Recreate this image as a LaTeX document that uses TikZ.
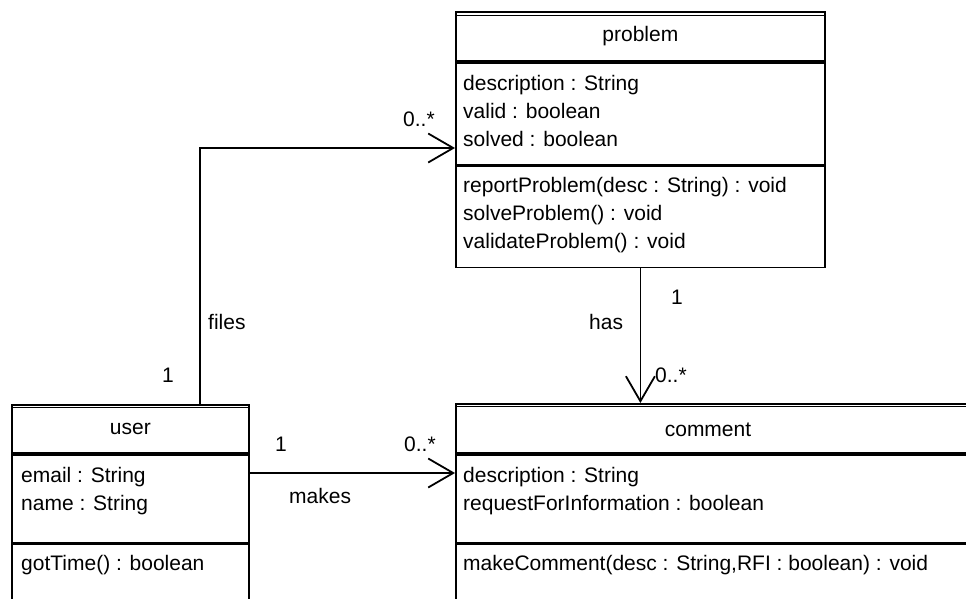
\documentclass[tikz,border=0pt]{standalone}
\usepackage{fontspec}
\setmainfont{Liberation Sans}
\usetikzlibrary{arrows.meta}

\tikzset{
  part/.style={draw, line width=1.8pt, rectangle, anchor=north west, inner sep=0pt},
  member/.style={anchor=base west, inner sep=0pt},
  mult/.style={anchor=base west, inner sep=0pt},
  topline/.style={line width=0.9pt},
  assoc/.style={line width=1.8pt, -{Straight Barb[length=25pt, width=29pt, line width=1.8pt]}},
}

\begin{document}
\begin{tikzpicture}[x=1pt, y=-1pt, every node/.style={font=\fontsize{21pt}{28pt}\selectfont}]
  \useasboundingbox (0,0) rectangle (966,598);
  \clip (0,0) rectangle (966,598);

  % problem class
  \node[part, minimum width=369pt, minimum height=49pt] (problem) at (455,11) {problem};
  \node[part, minimum width=369pt, minimum height=102pt] (problemattr) at (problem.south west) {};
  \node[part, minimum width=369pt, minimum height=101pt] (problemops) at (problemattr.south west) {};
  \draw[topline] ([yshift=-4pt]problem.north west) -- ([yshift=-4pt]problem.north east);
  \node[member] (pdesc) at (463,90) {description : String};
  \node[member] (pvalid) at (463,118) {valid : boolean};
  \node[member] (psolved) at (463,146) {solved : boolean};
  \node[member] (preport) at (463,192) {reportProblem(desc : String) : void};
  \node[member] (psolve) at (463,220) {solveProblem() : void};
  \node[member] (pvalidate) at (463,248) {validateProblem() : void};

  % user class
  \node[part, minimum width=237pt, minimum height=48pt] (user) at (11,404) {user};
  \node[part, minimum width=237pt, minimum height=88pt] (userattr) at (user.south west) {};
  \node[part, minimum width=237pt, minimum height=100pt] (userops) at (userattr.south west) {};
  \draw[topline] ([yshift=-3.5pt]user.north west) -- ([yshift=-3.5pt]user.north east);
  \node[member] (uemail) at (21,482) {email : String};
  \node[member] (uname) at (21,510) {name : String};
  \node[member] (ugottime) at (21,570) {gotTime() : boolean};

  % comment class
  \node[part, minimum width=525pt, minimum height=49pt] (comment) at (455,403) {};
  \node[part, minimum width=525pt, minimum height=88pt] (commentattr) at (comment.south west) {};
  \node[part, minimum width=525pt, minimum height=100pt] (commentops) at (commentattr.south west) {};
  \draw[topline] ([yshift=-3.5pt]comment.north west) -- ([yshift=-3.5pt]comment.north east);
  \node[anchor=base] (commentname) at (708,436) {comment};
  \node[member] (cdesc) at (463,482) {description : String};
  \node[member] (crfi) at (463,510) {requestForInformation : boolean};
  \node[member] (cmake) at (463,570) {makeComment(desc : String,RFI : boolean) : void};

  % associations
  \coordinate (filesbend) at (200,148);
  \coordinate (makesrow) at (0,473);
  \draw[assoc] (filesbend |- user.north) -- (filesbend) -- (filesbend -| problemattr.west);
  \draw[assoc] (problemops.south) -- (problemops.south |- comment.north);
  \draw[assoc] (userattr.east |- makesrow) -- (commentattr.west |- makesrow);

  \node[mult] (filesname) at (208,329) {files};
  \node[mult] (filesfrom) at (162,382) {1};
  \node[mult] (filesto) at (403,126) {0..*};
  \node[mult] (hasname) at (589,329) {has};
  \node[mult] (hasfrom) at (671,304) {1};
  \node[mult] (hasto) at (655,382) {0..*};
  \node[mult] (makesname) at (289,503) {makes};
  \node[mult] (makesfrom) at (275,451) {1};
  \node[mult] (makesto) at (404,451) {0..*};
\end{tikzpicture}
\end{document}
